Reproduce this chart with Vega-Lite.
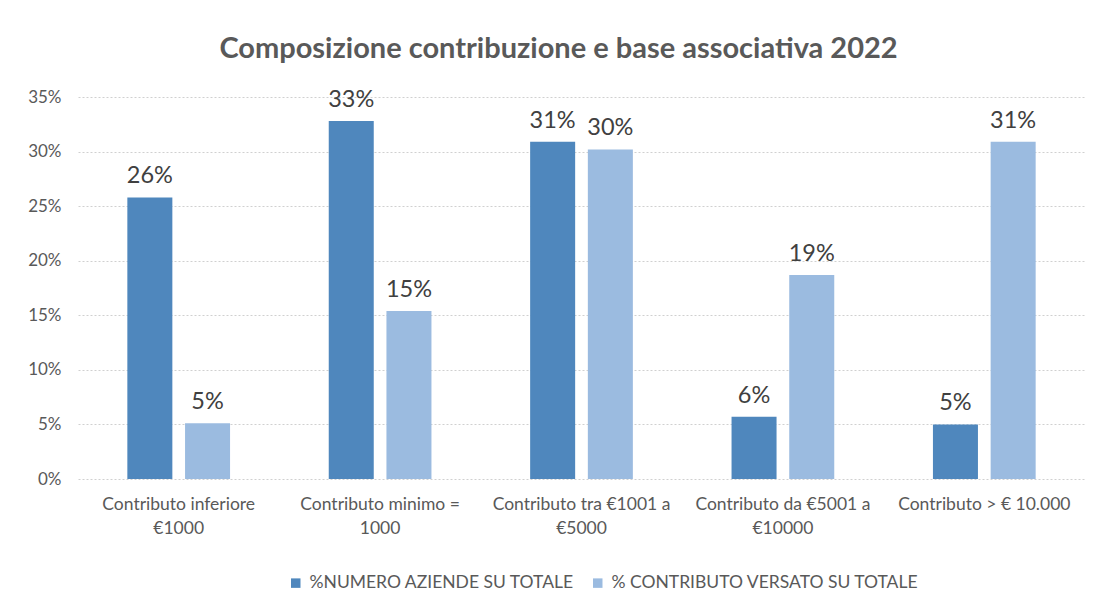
{
  "$schema": "https://vega.github.io/schema/vega-lite/v6.json",
  "width": 1007,
  "height": 382,
  "autosize": "none",
  "padding": {"left": 78, "top": 97, "right": 13, "bottom": 124},
  "background": "white",
  "config": {
    "font": "Lato",
    "view": {"stroke": null}
  },
  "title": {
    "text": "Composizione contribuzione e base associativa 2022",
    "fontSize": 29,
    "fontWeight": "bold",
    "color": "#595959",
    "anchor": "middle",
    "dx": -23,
    "offset": 24
  },
  "data": {
    "values": [
      {"categoria": "Contributo inferiore|€1000", "serie": "%NUMERO AZIENDE SU TOTALE", "valore": 0.258},
      {"categoria": "Contributo inferiore|€1000", "serie": "% CONTRIBUTO VERSATO SU TOTALE", "valore": 0.051},
      {"categoria": "Contributo minimo =|1000", "serie": "%NUMERO AZIENDE SU TOTALE", "valore": 0.328},
      {"categoria": "Contributo minimo =|1000", "serie": "% CONTRIBUTO VERSATO SU TOTALE", "valore": 0.154},
      {"categoria": "Contributo tra €1001 a|€5000", "serie": "%NUMERO AZIENDE SU TOTALE", "valore": 0.309},
      {"categoria": "Contributo tra €1001 a|€5000", "serie": "% CONTRIBUTO VERSATO SU TOTALE", "valore": 0.302},
      {"categoria": "Contributo da €5001 a|€10000", "serie": "%NUMERO AZIENDE SU TOTALE", "valore": 0.057},
      {"categoria": "Contributo da €5001 a|€10000", "serie": "% CONTRIBUTO VERSATO SU TOTALE", "valore": 0.187},
      {"categoria": "Contributo > € 10.000", "serie": "%NUMERO AZIENDE SU TOTALE", "valore": 0.050},
      {"categoria": "Contributo > € 10.000", "serie": "% CONTRIBUTO VERSATO SU TOTALE", "valore": 0.309}
    ]
  },
  "encoding": {
    "x": {
      "field": "categoria",
      "type": "nominal",
      "sort": null,
      "title": null,
      "scale": {"paddingInner": 0.49, "paddingOuter": 0.245},
      "axis": {
        "labelAngle": 0,
        "labelExpr": "split(datum.label, '|')",
        "labelFontSize": 17.5,
        "labelColor": "#595959",
        "labelPadding": 16,
        "labelLineHeight": 24,
        "labelLimit": 260,
        "ticks": false,
        "domain": false,
        "grid": false
      }
    },
    "xOffset": {
      "field": "serie",
      "type": "nominal",
      "sort": ["%NUMERO AZIENDE SU TOTALE", "% CONTRIBUTO VERSATO SU TOTALE"],
      "scale": {"paddingInner": 0.22}
    },
    "y": {
      "field": "valore",
      "type": "quantitative",
      "title": null,
      "scale": {"domain": [0, 0.35], "nice": false},
      "axis": {
        "values": [0, 0.05, 0.1, 0.15, 0.2, 0.25, 0.3, 0.35],
        "format": ".0%",
        "labelFontSize": 17,
        "labelColor": "#595959",
        "labelPadding": 17,
        "ticks": false,
        "domain": false,
        "gridColor": "#D0D0D0",
        "gridDash": [2, 2],
        "gridWidth": 1
      }
    }
  },
  "layer": [
    {
      "mark": {"type": "bar"},
      "encoding": {
        "color": {
          "field": "serie",
          "type": "nominal",
          "sort": ["%NUMERO AZIENDE SU TOTALE", "% CONTRIBUTO VERSATO SU TOTALE"],
          "scale": {"range": ["#4F87BD", "#9BBBE0"]},
          "legend": {
            "title": null,
            "orient": "none",
            "legendX": 209,
            "legendY": 477,
            "direction": "horizontal",
            "symbolType": "square",
            "symbolSize": 90,
            "symbolStrokeWidth": 0,
            "labelFontSize": 17.5,
            "labelColor": "#595959",
            "labelLimit": 400,
            "columnPadding": 14,
            "labelOffset": 5
          }
        }
      }
    },
    {
      "mark": {"type": "text", "baseline": "alphabetic", "dy": -14, "fontSize": 23.5, "color": "#404040"},
      "encoding": {
        "text": {"field": "valore", "type": "quantitative", "format": ".0%"}
      }
    }
  ]
}
